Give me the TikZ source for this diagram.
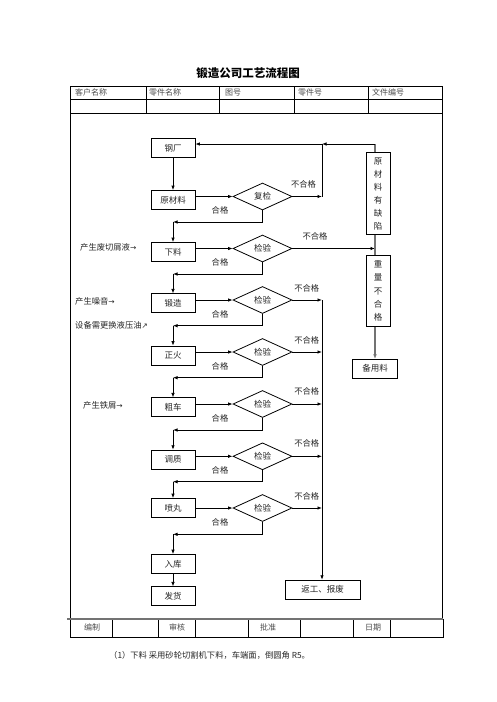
\documentclass[tikz,border=0pt]{standalone}
\usepackage{fontspec}
\newfontfamily\cjk{Noto Sans CJK SC}
\newfontfamily\symf{DejaVu Sans}
\usetikzlibrary{arrows.meta,shapes.geometric}
\tikzset{
  every node/.style={font=\cjk\fontsize{8.5}{10}\selectfont, text=black!85, inner sep=0pt},
  tline/.style={draw=black, line width=0.8pt},
  proc/.style={draw=black, line width=0.8pt, minimum width=44pt, minimum height=19pt},
  chk/.style={draw=black, diamond, line width=0.8pt, minimum width=59pt, minimum height=27pt},
  vbox/.style={draw=black, line width=0.8pt, minimum width=24pt, align=center, font=\cjk\fontsize{8.5}{13.1}\selectfont},
  flow/.style={draw=black, line width=0.8pt, -{Latex[length=4.5pt,width=3.5pt]}},
  plain/.style={draw=black, line width=0.8pt},
  gflow/.style={draw=black!55, line width=1.3pt, -{Latex[length=4.5pt,width=3.8pt]}},
  gline/.style={draw=black!55, line width=1.3pt},
  hdr/.style={anchor=west, font=\cjk\fontsize{8}{10}\selectfont, text=black!70},
  ftr/.style={font=\cjk\fontsize{8}{10}\selectfont, text=black!70},
  lbl/.style={font=\cjk\fontsize{8.3}{10}\selectfont},
  note/.style={anchor=west, font=\cjk\fontsize{8.3}{10}\selectfont}
}
\begin{document}
\begin{tikzpicture}[x=1pt,y=-1pt]
\useasboundingbox (0,0) rectangle (496,702);
\fill[white] (0,0) rectangle (496,702);

% title
\node[font=\cjk\bfseries\fontsize{11.5}{12}\selectfont, text=black] (title) at (248,73) {锻造公司工艺流程图};

% header table
\draw[tline] (70,86) rectangle (442,113);
\draw[tline] (70,99.5) -- (442,99.5);
\foreach \x in {146,219,294,368} \draw[tline] (\x,86) -- (\x,113);
\node[hdr] (h1) at (75,92.7) {客户名称};
\node[hdr] (h2) at (149,92.7) {零件名称};
\node[hdr] (h3) at (225,92.7) {图号};
\node[hdr] (h4) at (298,92.7) {零件号};
\node[hdr] (h5) at (372,92.7) {文件编号};

% main frame
\draw[tline] (70,113) -- (70,619);
\draw[tline] (442,113) -- (442,619);

% footer table
\draw[tline] (70,619) rectangle (443,637);
\foreach \x in {112,158,195,248,300,353,390} \draw[tline] (\x,619) -- (\x,637);
\draw[draw=black!55, line width=1.8pt] (67,619) -- (443,619);
\node[ftr] (f1) at (92,627.5) {编制};
\node[ftr] (f2) at (177,627.5) {审核};
\node[ftr] (f3) at (268,627.5) {批准};
\node[ftr] (f4) at (373,627.5) {日期};

% caption
\node[anchor=west, font=\cjk\fontsize{8.3}{10}\selectfont] (cap) at (109,655) {（1）下料\ 采用砂轮切割机下料，车端面，倒圆角 R5。};

% process boxes
\node[proc] (gc) at (173,148) {钢厂};
\node[proc] (ycl) at (173,200) {原材料};
\node[proc] (xl) at (173,252) {下料};
\node[proc] (dz) at (173,303.3) {锻造};
\node[proc] (zh) at (173,355.5) {正火};
\node[proc] (cc) at (173,407.3) {粗车};
\node[proc] (tz) at (173,459.7) {调质};
\node[proc] (pw) at (173,508) {喷丸};
\node[proc] (rk) at (173,564) {入库};
\node[proc] (fh) at (173,596.3) {发货};
\node[proc, minimum width=75pt] (fg) at (322.5,589.7) {返工、报废};
\node[proc, minimum width=45.5pt] (by) at (375,368.7) {备用料};

% check diamonds
\node[chk] (fj) at (262.5,196.5) {复检};
\node[chk] (j1) at (262.5,248.5) {检验};
\node[chk] (j2) at (262.5,300) {检验};
\node[chk] (j3) at (262.5,352) {检验};
\node[chk] (j4) at (262.5,404) {检验};
\node[chk] (j5) at (262.5,456.3) {检验};
\node[chk] (j6) at (262.5,508) {检验};

% vertical boxes
\node[vbox, minimum height=82pt] (qx) at (378,193.8) {原\\材\\料\\有\\缺\\陷};
\node[vbox, minimum height=71.7pt] (zl) at (378,290.8) {重\\量\\不\\合\\格};

% coordinates
\coordinate (t1) at (322,144);
\coordinate (tr) at (375,144);
\coordinate (r0) at (322,196.5);
\coordinate (rv) at (322,300);
\coordinate (k1) at (173,222);
\coordinate (k2) at (173,274);
\coordinate (k3) at (173,325.7);
\coordinate (k4) at (173,377.7);
\coordinate (k5) at (173,430);
\coordinate (k6) at (173,481.7);
\coordinate (k7) at (173,534.3);

% main chain
\draw[flow] (gc) -- (ycl);
\draw[flow] (fj.west -| ycl.east) -- (fj.west);
\draw[flow] (j1.west -| xl.east) -- (j1.west);
\draw[flow] (j2.west -| dz.east) -- (j2.west);
\draw[flow] (j3.west -| zh.east) -- (j3.west);
\draw[flow] (j4.west -| cc.east) -- (j4.west);
\draw[flow] (j5.west -| tz.east) -- (j5.west);
\draw[flow] (j6.west -| pw.east) -- (j6.west);

\draw[flow] (fj.south) |- (k1);
\draw[flow] (k1) -- (xl.north);
\draw[flow] (j1.south) |- (k2);
\draw[flow] (k2) -- (dz.north);
\draw[flow] (j2.south) |- (k3);
\draw[flow] (k3) -- (zh.north);
\draw[flow] (j3.south) |- (k4);
\draw[flow] (k4) -- (cc.north);
\draw[flow] (j4.south) |- (k5);
\draw[flow] (k5) -- (tz.north);
\draw[flow] (j5.south) |- (k6);
\draw[flow] (k6) -- (pw.north);
\draw[flow] (j6.south) |- (k7);
\draw[flow] (k7) -- (rk.north);
\draw[flow] (rk) -- (fh);

% reject paths
\draw[flow] (fj.east) -- (r0);
\draw[plain] (r0) -- (t1);
\draw[flow] (t1) -- (gc.east |- t1);
\draw[gline] (qx.north -| tr) -- (tr);
\draw[flow] (tr) -- (t1);
\draw[flow] (j1.east) -- (j1.east -| tr);
\draw[gline] (qx.south -| tr) -- (zl.north -| tr);
\draw[gflow] (zl.south -| by.north) -- (by.north);

\draw[flow] (j2.east) -- (rv);
\draw[flow] (j3.east) -- (j3.east -| rv);
\draw[flow] (j4.east) -- (j4.east -| rv);
\draw[flow] (j5.east) -- (j5.east -| rv);
\draw[flow] (j6.east) -- (j6.east -| rv);
\draw[flow] (rv) -- (fg.north -| rv);

% labels
\node[lbl] (n0) at (303.5,184) {不合格};
\node[lbl] (n1) at (315,236.7) {不合格};
\node[lbl] (n2) at (306.7,288) {不合格};
\node[lbl] (n3) at (306.7,340) {不合格};
\node[lbl] (n4) at (306.7,391.7) {不合格};
\node[lbl] (n5) at (306.7,443) {不合格};
\node[lbl] (n6) at (306.7,496) {不合格};
\node[lbl] (p0) at (220,210) {合格};
\node[lbl] (p1) at (220,262) {合格};
\node[lbl] (p2) at (220,314) {合格};
\node[lbl] (p3) at (220,366) {合格};
\node[lbl] (p4) at (220,418) {合格};
\node[lbl] (p5) at (220,470) {合格};
\node[lbl] (p6) at (220,522.7) {合格};

% notes
\node[note] (a1) at (80,247.7) {产生废切屑液{\symf\fontsize{7.5}{8}\selectfont →}};
\node[note] (a2) at (75,301.7) {产生噪音{\symf\fontsize{7.5}{8}\selectfont →}};
\node[note] (a3) at (75,325) {设备需更换液压油{\symf\fontsize{7.5}{8}\selectfont ↗}};
\node[note] (a4) at (83,405) {产生铁屑{\symf\fontsize{7.5}{8}\selectfont →}};
\end{tikzpicture}
\end{document}
